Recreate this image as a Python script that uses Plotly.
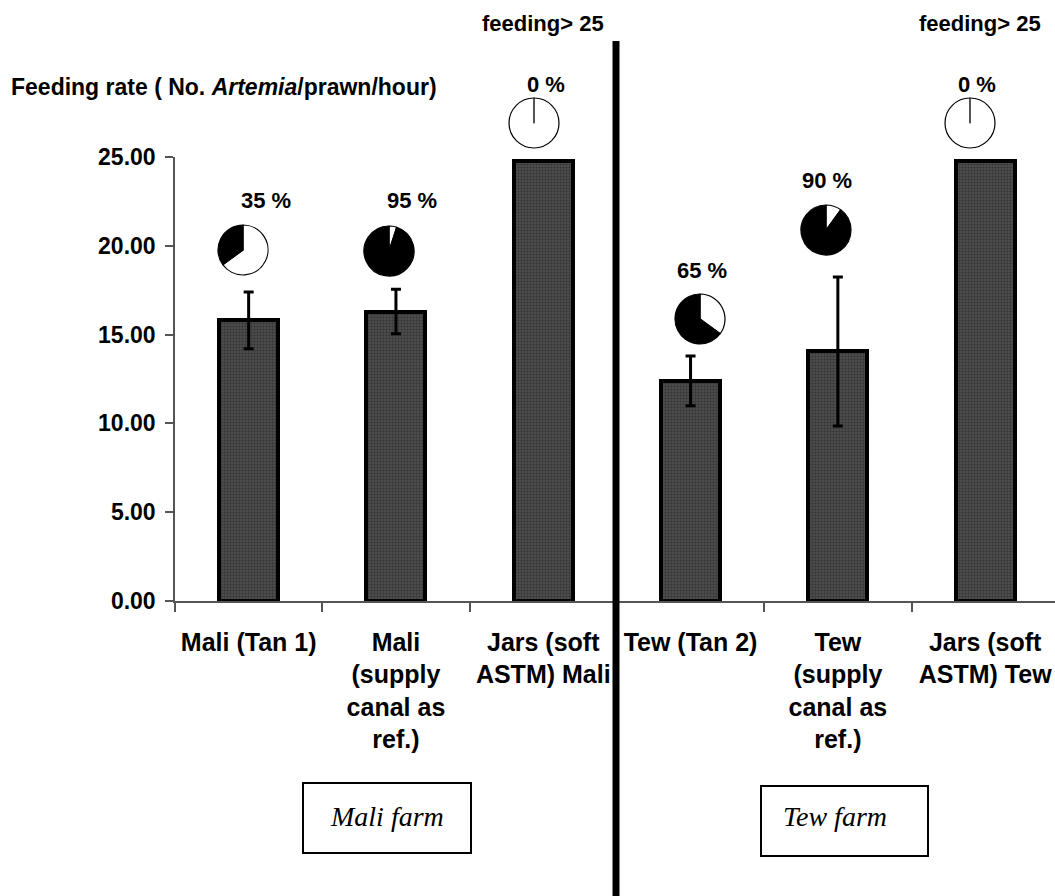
import plotly.graph_objects as go

# ---------------- data ----------------
categories = ["Mali (Tan 1)", "Mali<br>(supply<br>canal as<br>ref.)", "Jars (soft<br>ASTM) Mali",
              "Tew (Tan 2)", "Tew<br>(supply<br>canal as<br>ref.)", "Jars (soft<br>ASTM) Tew"]
feeding_rate = [15.8, 16.3, 24.8, 12.4, 14.05, 24.8]
feeding_err = [1.6, 1.25, 0.0, 1.4, 4.2, 0.0]
pct_feeding = [35, 95, 0, 65, 90, 0]
y_ticks = [0, 5, 10, 15, 20, 25]
farm_labels = ["Mali farm", "Tew farm"]
note_text = "feeding> 25"

# ---------------- layout constants (pixels) ----------------
W, H = 1055, 896
FONT = "Liberation Sans, Arial, sans-serif"
SERIF = "Liberation Serif, Times New Roman, serif"
ax_left, ax_bottom, ax_top = 175, 601, 157
cat_w = 147.3
x_hi = -0.5 + (W - ax_left) / cat_w

pie_centers = [(243, 250), (389, 251), (534, 123), (700, 319), (826, 230), (970, 123)]
pie_r = 25
pct_pos = [(266, 200), (412, 200), (546, 85), (702, 270), (827, 180), (977, 85)]
note_pos = [(543, 23), (980, 23)]
box_rects = [(303, 783, 471, 853), (761, 786, 928, 856)]
box_text_pos = [(387, 816), (835, 816)]


def px(x):
    return x / W


def py(y):
    return 1 - y / H


fig = go.Figure()

fig.add_trace(go.Bar(
    x=categories, y=feeding_rate, width=0.40,
    marker=dict(color="#525252",
                line=dict(color="black", width=4),
                pattern=dict(shape=".", fgcolor="#1c1c1c", size=3, solidity=0.5)),
    error_y=dict(type="data", array=feeding_err, visible=True,
                 color="black", thickness=3, width=5),
    showlegend=False, hoverinfo="skip",
))

shapes = []
for (cx, cy), p in zip(pie_centers, pct_feeding):
    # white remainder first, then the black "feeding" share, which runs
    # counter-clockwise from 12 o'clock
    fig.add_trace(go.Pie(
        values=[100 - p, p], sort=False, direction="counterclockwise", rotation=0,
        marker=dict(colors=["white", "black"], line=dict(color="black", width=1.2)),
        textinfo="none", hoverinfo="skip", showlegend=False,
        domain=dict(x=[px(cx - pie_r), px(cx + pie_r)], y=[py(cy + pie_r), py(cy - pie_r)]),
    ))
    if p == 0:
        # empty slice boundary drawn as a thin radius to 12 o'clock
        shapes.append(dict(type="line", xref="paper", yref="paper",
                           x0=px(cx), x1=px(cx), y0=py(cy), y1=py(cy - pie_r),
                           line=dict(color="#444", width=1)))

annotations = []
for (lx, ly), p in zip(pct_pos, pct_feeding):
    annotations.append(dict(x=px(lx), y=py(ly), xref="paper", yref="paper", showarrow=False,
                            text=f"<b>{p} %</b>", font=dict(family=FONT, size=22, color="black"),
                            xanchor="center", yanchor="middle"))
for (lx, ly) in note_pos:
    annotations.append(dict(x=px(lx), y=py(ly), xref="paper", yref="paper", showarrow=False,
                            text=f"<b>{note_text}</b>", font=dict(family=FONT, size=22, color="black"),
                            xanchor="center", yanchor="middle"))
annotations.append(dict(x=px(9), y=py(87), xref="paper", yref="paper", showarrow=False,
                        text="<b>Feeding rate ( No. <i>Artemia</i>/prawn/hour)</b>",
                        font=dict(family=FONT, size=23, color="black"),
                        xanchor="left", yanchor="middle"))
for (tx, ty), lab in zip(box_text_pos, farm_labels):
    annotations.append(dict(x=px(tx), y=py(ty), xref="paper", yref="paper", showarrow=False,
                            text=f"<i>{lab}</i>", font=dict(family=SERIF, size=28, color="black"),
                            xanchor="center", yanchor="middle"))

for (x0, y0, x1, y1) in box_rects:
    shapes.append(dict(type="rect", xref="paper", yref="paper",
                       x0=px(x0), x1=px(x1), y0=py(y1), y1=py(y0),
                       line=dict(color="black", width=2), fillcolor="rgba(0,0,0,0)"))
# thick separator between farms
shapes.append(dict(type="line", xref="paper", yref="paper",
                   x0=px(616), x1=px(616), y0=py(896), y1=py(41),
                   line=dict(color="black", width=7)))

fig.update_layout(
    width=W, height=H, margin=dict(l=0, r=0, t=0, b=0),
    paper_bgcolor="white", plot_bgcolor="white",
    annotations=annotations, shapes=shapes, bargap=0,
    xaxis=dict(domain=[px(ax_left), 1], range=[-0.5, x_hi], type="category",
               showline=True, linecolor="#555", linewidth=1.5,
               ticks="outside", tickson="boundaries", ticklen=9, tickcolor="#555", tickwidth=1.5,
               ticklabelstandoff=18,
               tickfont=dict(family=FONT, size=25, color="black"),
               tickvals=categories, ticktext=[f"<b>{c}</b>" for c in categories],
               showgrid=False, zeroline=False, automargin=False),
    yaxis=dict(domain=[py(ax_bottom), py(ax_top)], range=[0, 25],
               tickvals=y_ticks, ticktext=[f"<b>{v:.2f}</b>" for v in y_ticks],
               showline=True, linecolor="#555", linewidth=1.5,
               ticks="outside", ticklen=8, tickcolor="#555", tickwidth=1.5,
               ticklabelstandoff=5,
               tickfont=dict(family=FONT, size=23, color="black"),
               showgrid=False, zeroline=False, automargin=False),
)

fig.write_html("out.html", config={"displayModeBar": False},
               post_script="document.body.style.margin='0';")
